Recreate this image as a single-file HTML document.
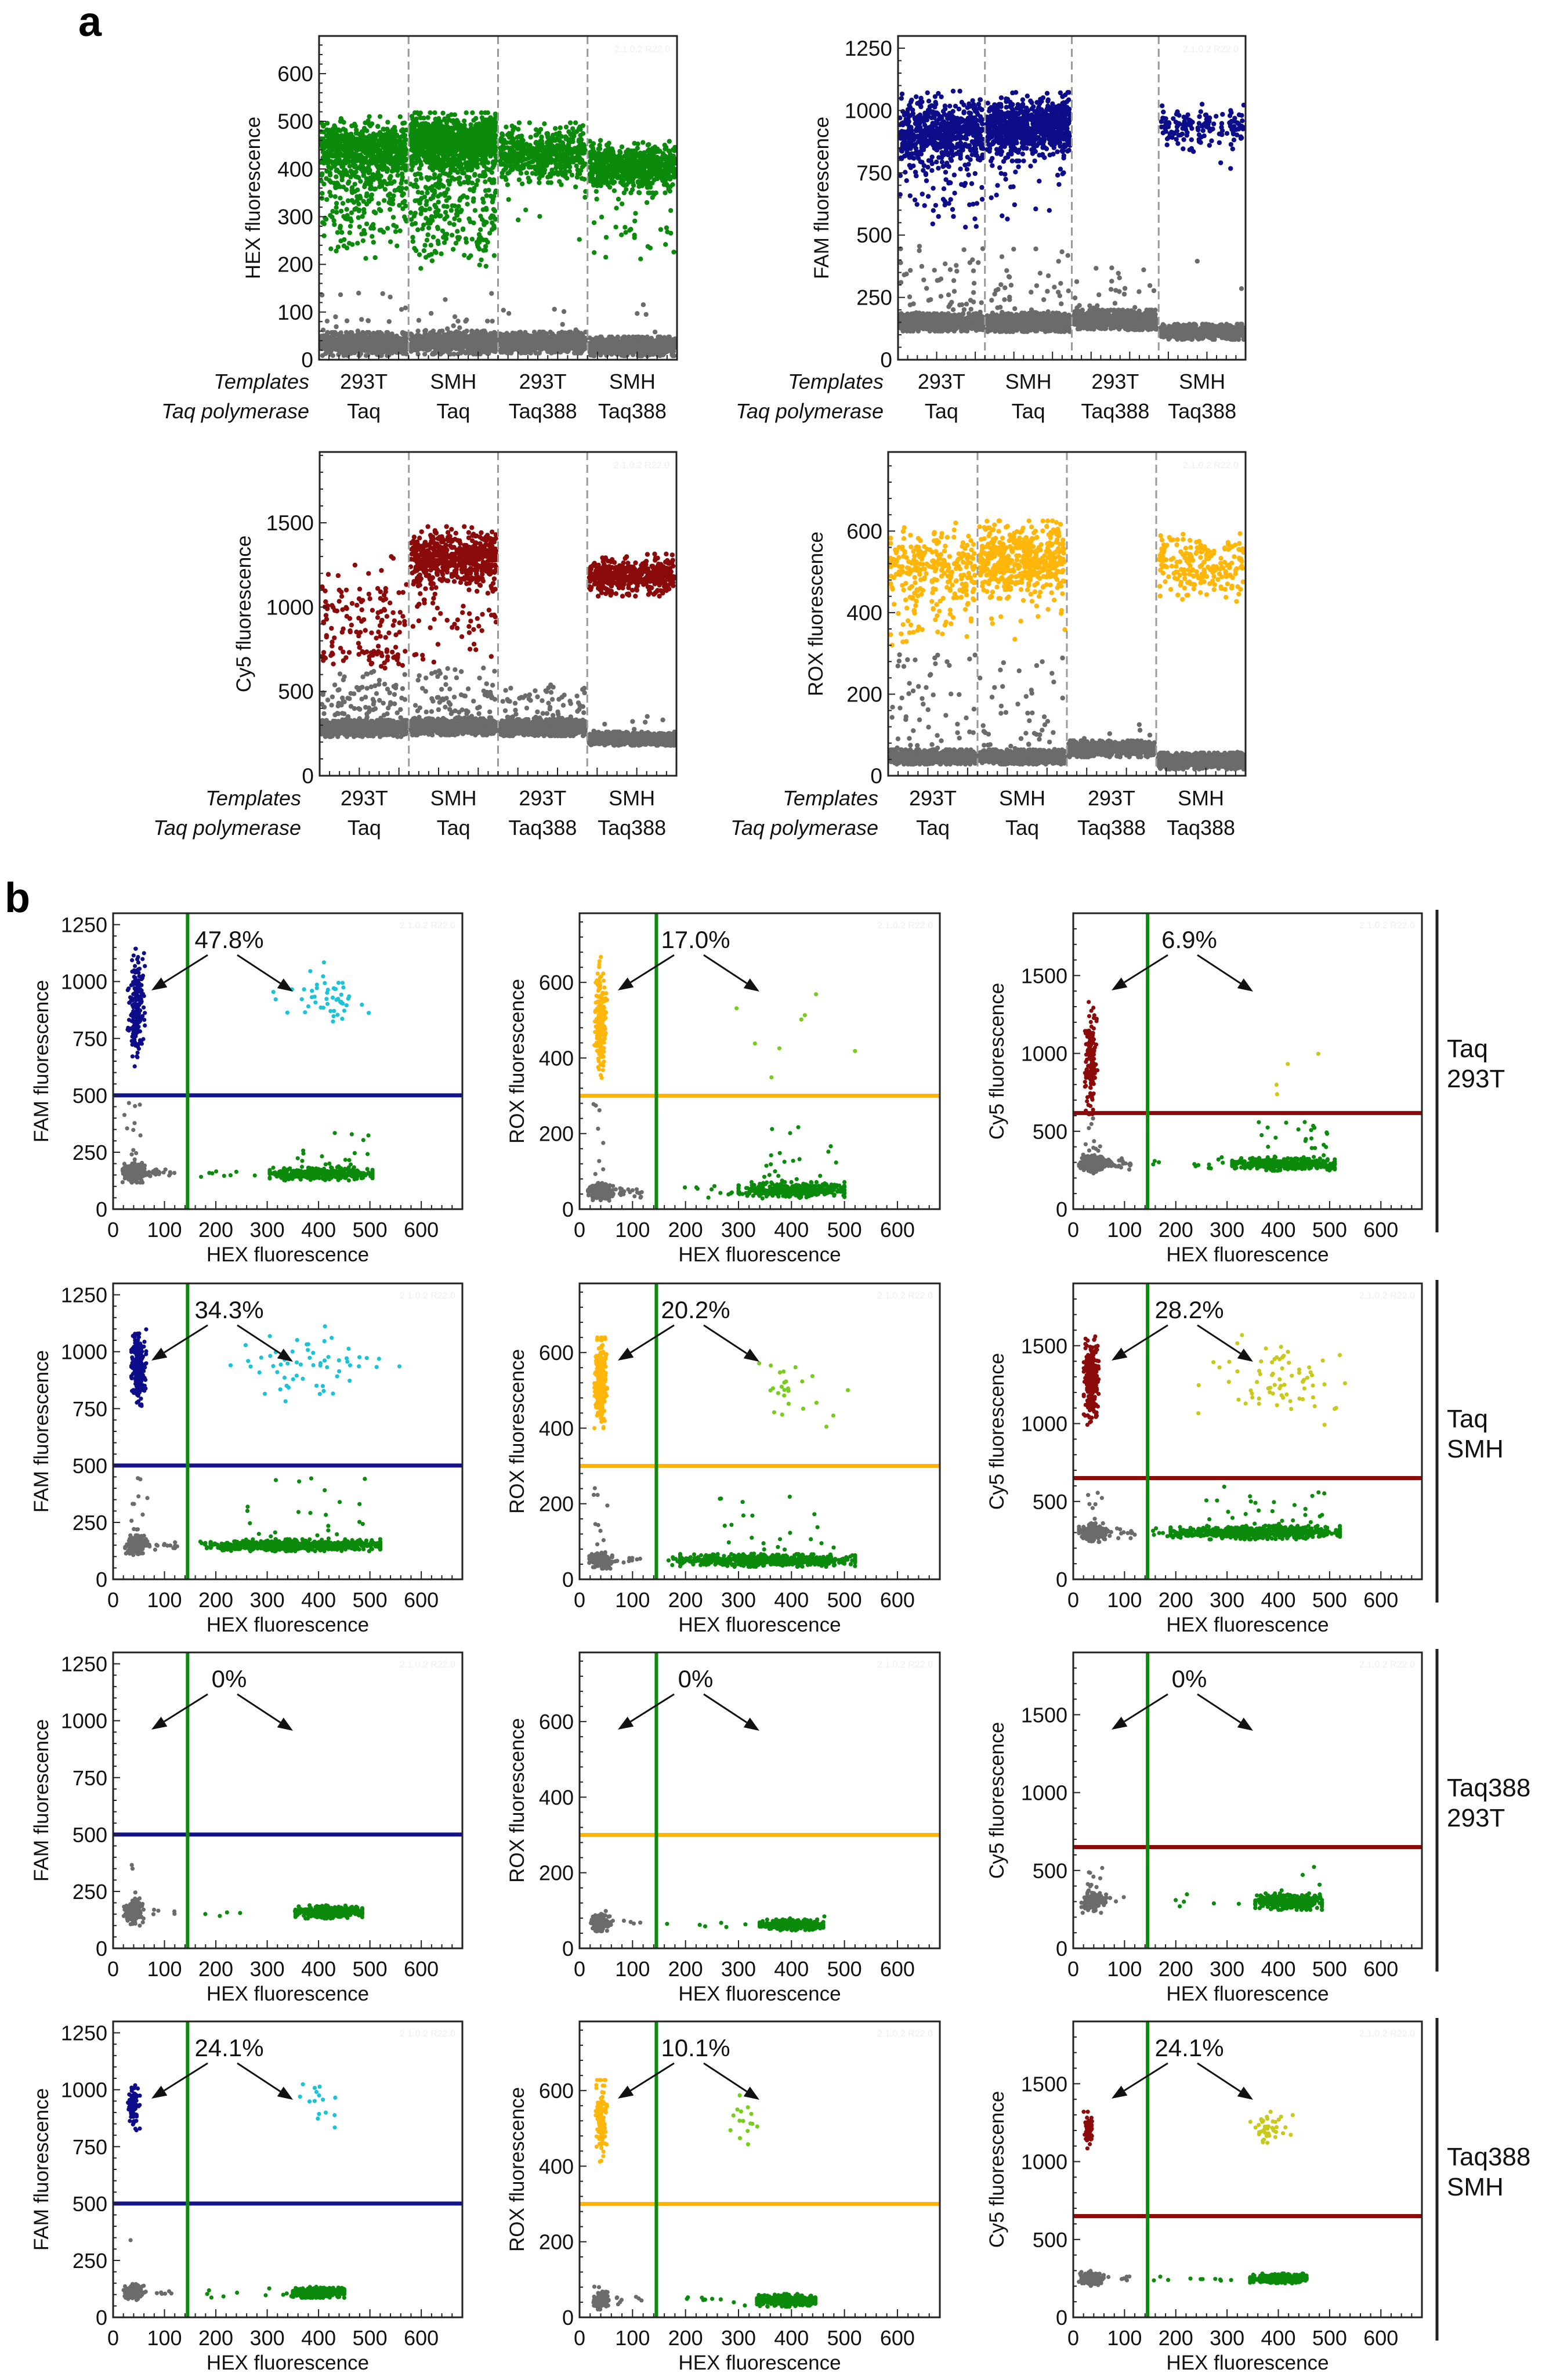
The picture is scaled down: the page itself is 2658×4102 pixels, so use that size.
<!DOCTYPE html>
<html><head><meta charset="utf-8">
<style>
html,body{margin:0;padding:0;background:#fff;}
svg{display:block;font-family:"Liberation Sans",Arial,sans-serif;}
</style></head>
<body>
<svg id="fig" width="2658" height="4102" viewBox="0 0 2658 4102" xmlns="http://www.w3.org/2000/svg">
<rect width="2658" height="4102" fill="#fff"/>
<text x="135" y="62" font-size="72" font-weight="bold">a</text>
<text x="8" y="1572" font-size="72" font-weight="bold">b</text>
</svg>
<script>
// ---------- Panel a data (per well: 293T/Taq, SMH/Taq, 293T/Taq388, SMH/Taq388) ----------
const templates = ["293T","SMH","293T","SMH"];
const polymerases = ["Taq","Taq","Taq388","Taq388"];

const hexPosMean = [440,458,432,405];
const hexPosSD = [28,24,26,22];
const hexPosN = [700,1100,500,700];
const hexRainN = [200,320,15,35];
const hexRainLo = [200,190,210,180];
const hexNegMean = [33,36,36,28];
const hexNegSD = [11,11,10,9];
const hexNegRainN = [20,15,8,6];
const hexNegRainHi = [140,140,110,120];

const famPosMean = [915,935,0,930];
const famPosSD = [65,55,0,40];
const famPosN = [600,800,0,140];
const famRainN = [60,35,0,3];
const famRainLo = [500,520,0,740];
const famNegMean = [150,150,160,112];
const famNegSD = [16,17,18,14];
const famNegRainN = [55,40,25,2];
const famNegRainHi = [460,460,380,450];

const cy5PosMean = [950,1290,0,1190];
const cy5PosSD = [140,75,0,50];
const cy5PosN = [110,550,0,450];
const cy5RainN = [40,70,0,4];
const cy5RainLo = [620,640,0,1020];
const cy5NegMean = [280,290,285,220];
const cy5NegSD = [22,22,22,18];
const cy5NegRainN = [100,90,70,8];
const cy5NegRainHi = [620,650,540,380];

const roxPosMean = [520,530,0,520];
const roxPosSD = [40,38,0,38];
const roxPosN = [230,480,0,200];
const roxRainN = [60,25,0,2];
const roxRainLo = [300,300,0,410];
const roxNegMean = [46,46,66,36];
const roxNegSD = [8,8,9,9];
const roxNegRainN = [55,50,5,2];
const roxNegRainHi = [300,300,130,90];

const negPerWell = 800;

// ---------- Panel b data ----------
// order per row: FAM, ROX, Cy5 ; rows: Taq 293T, Taq SMH, Taq388 293T, Taq388 SMH
const bPercents = ["47.8%","17.0%","6.9%","34.3%","20.2%","28.2%","0%","0%","0%","24.1%","10.1%","24.1%"];
const bThreshold = [500,300,617,500,300,650,500,300,650,500,300,650];
const hexThreshold = 145;
const rowLabels1 = ["Taq","Taq","Taq388","Taq388"];
const rowLabels2 = ["293T","SMH","293T","SMH"];
// negative (gray)
const negX = [40,40,40, 45,40,40, 40,40,40, 40,40,35];
const negY = [160,45,290, 150,50,300, 160,68,300, 110,45,250];
const negSX = [9,10,12, 9,9,12, 8,8,10, 9,7,10];
const negSY = [18,10,25, 18,9,25, 25,10,30, 15,10,20];
const negN = [300,300,300, 200,200,200, 150,150,150, 150,150,150];
const negTailN = [25,25,25, 15,15,15, 5,5,5, 8,8,8];
const negUpN = [12,8,10, 12,10,8, 3,2,10, 1,3,1];
const negUpHi = [480,290,600, 460,250,600, 380,130,520, 450,90,300];
// channel-single positive
const chX = [45,40,35, 50,40,35, 0,0,0, 40,40,30];
const chY = [880,500,970, 930,520,1280, 0,0,0, 920,520,1200];
const chSX = [7,5,5, 6,5,6, 0,0,0, 5,5,4];
const chSY = [110,70,150, 70,50,120, 0,0,0, 50,45,50];
const chN = [200,200,150, 300,300,300, 0,0,0, 80,120,70];
// HEX single positive (green): center and half-width (uniform in x)
const gX = [405,400,410, 355,355,355, 420,400,420, 400,390,400];
const gY = [155,50,290, 150,50,300, 160,62,300, 110,45,250];
const gHalfX = [100,100,100, 165,165,165, 65,60,65, 50,55,55];
const gSY = [12,9,18, 11,7,18, 12,6,22, 10,7,13];
const gN = [400,400,400, 700,700,700, 400,400,400, 400,400,400];
const gRainN = [8,10,12, 6,6,6, 5,6,6, 10,10,10];
const gUpN = [20,20,25, 25,25,30, 0,2,4, 0,0,0];
const gUpHi = [350,220,560, 450,220,600, 0,90,540, 0,0,0];
// double positive
const dX = [420,400,420, 400,400,400, 0,0,0, 400,320,380];
const dY = [920,480,1000, 950,500,1280, 0,0,0, 930,530,1200];
const dSX = [45,50,40, 75,50,65, 0,0,0, 15,15,20];
const dSY = [70,80,120, 70,40,120, 0,0,0, 40,30,50];
const dN = [50,8,4, 60,25,70, 0,0,0, 15,15,40];

// ---------- helpers ----------
const NS = "http://www.w3.org/2000/svg";
const svg = document.getElementById("fig");
let seed = 12345;
function rnd(){ seed = (seed + 0x6D2B79F5) | 0; let t = seed; t = Math.imul(t ^ t >>> 15, t | 1); t ^= t + Math.imul(t ^ t >>> 7, t | 61); return ((t ^ t >>> 14) >>> 0) / 4294967296; }
function gauss(){ let u = rnd() || 1e-9, v = rnd(); return Math.sqrt(-2*Math.log(u))*Math.cos(2*Math.PI*v); }
function el(tag, attrs, parent){ const e = document.createElementNS(NS, tag); for (const k in attrs) e.setAttribute(k, attrs[k]); (parent||svg).appendChild(e); return e; }
function txt(x,y,s,size,anchor,parent,extra){ const t = el("text",Object.assign({x:x,y:y,"font-size":size,"text-anchor":anchor||"middle",fill:"#111"},extra||{}),parent); t.textContent = s; return t; }

const COL = {green:"#0b8a0b", gray:"#6b6b6b", navy:"#0d0d8a", cyan:"#1cc2d8", red:"#8b0a0a", orange:"#ffb60a", yg:"#78cc1e", yellow:"#c9c91c"};

// ---------- panel a ----------
function panelA(cfg){
  const g = el("g",{});
  
  
  const L=cfg.x, T=cfg.y, W=cfg.w, H=cfg.h;
  const ys = v => T + H - v / cfg.ymax * H;
  const wellW = W/4;
  const pts = el("g",{fill:cfg.color},g);
  
  
  const gray = el("g",{fill:COL.gray},g);
  
  
  const r = 4.2;
  function dot(par, w, v){ const x = L + (w + 0.02 + rnd()*0.96)*wellW; const y = ys(v); if (y < T+3 || y > T+H-2) return; el("circle",{cx:x.toFixed(1),cy:y.toFixed(1),r:r},par); }
  for (let w=0; w<4; w++){
    for (let i=0;i<negPerWell;i++) dot(gray,w,cfg.negMean[w]+cfg.negSD[w]*Math.max(-2.2,Math.min(2.2,gauss())));
    for (let i=0;i<cfg.negRainN[w];i++) dot(gray,w,cfg.negMean[w]+2*cfg.negSD[w]+Math.pow(rnd(),1.5)*(cfg.negRainHi[w]-cfg.negMean[w]-2*cfg.negSD[w]));
    for (let i=0;i<cfg.posN[w];i++) dot(pts,w,cfg.posMean[w]+cfg.posSD[w]*Math.max(-2.5,Math.min(2.5,gauss())));
    const hi = cfg.posMean[w]-1.5*cfg.posSD[w];
    for (let i=0;i<cfg.rainN[w];i++) dot(pts,w,cfg.rainLo[w]+Math.pow(rnd(),0.6)*(hi-cfg.rainLo[w]));
  }
  for (let w=1; w<4; w++){
    const ln = el("line",{x1:L+w*wellW,x2:L+w*wellW,y1:T,y2:T+H,stroke:"#999","stroke-width":3,"stroke-dasharray":"14 8"},g);
    
    
  }
  const fr = el("rect",{x:L,y:T,width:W,height:H,fill:"none",stroke:"#222","stroke-width":3},g);
  
  
  for (let v=0; v<=cfg.ymax; v+=cfg.minor){
    const major = Math.abs(v/cfg.major - Math.round(v/cfg.major))<1e-6;
    el("line",{x1:L,x2:L+(major?12:6),y1:ys(v),y2:ys(v),stroke:"#222","stroke-width":2},g);
    if (major){ const t = txt(L-10, ys(v)+13, String(v), 37, "end", g);
      
       }
  }
  for (let i=1;i<36;i++){ const x=L+i*W/36; el("line",{x1:x,x2:x,y1:T+H,y2:T+H-(i%4==0?14:8),stroke:"#222","stroke-width":2},g); }
  const yt = txt(0,0,cfg.title,35,"middle",g,{transform:`translate(${cfg.titleX},${T+H/2}) rotate(-90)`});
  
  
  const wm = txt(L+W-12, T+28, "2.1.0.2 R22.0", 16, "end", g, {fill:"#eee"});
  
  
  const t1 = txt(cfg.lblX, cfg.lblY, "Templates", 36, "end", g, {"font-style":"italic"});
  
  
  const t2 = txt(cfg.lblX, cfg.lblY+51, "Taq polymerase", 36, "end", g, {"font-style":"italic"});
  
  
  for (let w=0; w<4; w++){
    const c = L+(w+0.5)*wellW;
    const a = txt(c, cfg.lblY, templates[w], 36, "middle", g);
    
    
    const b = txt(c, cfg.lblY+51, polymerases[w], 36, "middle", g);
    
    
  }
}
panelA({name:"hex-event-plot",x:550,y:62,w:617,h:558,ymax:679,major:100,minor:20,color:COL.green,title:"HEX fluorescence",titleX:448,lblX:533,lblY:670,
  posMean:hexPosMean,posSD:hexPosSD,posN:hexPosN,rainN:hexRainN,rainLo:hexRainLo,negMean:hexNegMean,negSD:hexNegSD,negRainN:hexNegRainN,negRainHi:hexNegRainHi});
panelA({name:"fam-event-plot",x:1548,y:62,w:599,h:558,ymax:1299,major:250,minor:50,color:COL.navy,title:"FAM fluorescence",titleX:1428,lblX:1523,lblY:670,
  posMean:famPosMean,posSD:famPosSD,posN:famPosN,rainN:famRainN,rainLo:famRainLo,negMean:famNegMean,negSD:famNegSD,negRainN:famNegRainN,negRainHi:famNegRainHi});
panelA({name:"cy5-event-plot",x:551,y:779,w:615,h:558,ymax:1920,major:500,minor:100,color:COL.red,title:"Cy5 fluorescence",titleX:432,lblX:519,lblY:1388,
  posMean:cy5PosMean,posSD:cy5PosSD,posN:cy5PosN,rainN:cy5RainN,rainLo:cy5RainLo,negMean:cy5NegMean,negSD:cy5NegSD,negRainN:cy5NegRainN,negRainHi:cy5NegRainHi});
panelA({name:"rox-event-plot",x:1531,y:779,w:616,h:558,ymax:794,major:200,minor:40,color:COL.orange,title:"ROX fluorescence",titleX:1418,lblX:1514,lblY:1388,
  posMean:roxPosMean,posSD:roxPosSD,posN:roxPosN,rainN:roxRainN,rainLo:roxRainLo,negMean:roxNegMean,negSD:roxNegSD,negRainN:roxNegRainN,negRainHi:roxNegRainHi});

// ---------- panel b ----------
const colLeft = [195,999,1850];
const colWidth = [602,621,601];
const colTitleOff = [112,96,120];
const rowTop = [1574,2212,2848,3484];
const plotH = 510;
const chanName = ["FAM","ROX","Cy5"];
const chanMax = [1300,783,1900];
const chanMajor = [250,200,500];
const chanMinor = [50,40,100];
const chanCol = [COL.navy,COL.orange,COL.red];
const dblCol = [COL.cyan,COL.yg,COL.yellow];
const thrCol = ["#14148a","#ffb400","#8b0a0a"];
const XMAX = 680;

for (let r=0;r<4;r++){
  for (let c=0;c<3;c++){
    const k = r*3+c;
    const L = colLeft[c], T = rowTop[r], W = colWidth[c], H = plotH;
    const xs = v => L + v/XMAX*W;
    const ys = v => T + H - v/chanMax[c]*H;
    const g = el("g",{});
    
    
    function put(par, vx, vy){
      const x = xs(vx), y = ys(vy);
      if (x<L+3||x>L+W-3||y<T+3||y>T+H-3) return;
      el("circle",{cx:x.toFixed(1),cy:y.toFixed(1),r:3.6},par);
    }
    function grp(col,nm){ const cg = el("g",{fill:col},g);
      
       return cg; }
    const cl = v => Math.max(-2.4,Math.min(2.4,v));
    // gray
    const ng = grp(COL.gray,'negative-cluster');
    for (let i=0;i<negN[k];i++) put(ng, negX[k]+negSX[k]*cl(gauss()), negY[k]+negSY[k]*cl(gauss()));
    for (let i=0;i<negTailN[k];i++) put(ng, negX[k]+20+rnd()*60, negY[k]+negSY[k]*0.6*cl(gauss()));
    for (let i=0;i<negUpN[k];i++) put(ng, negX[k]+negSX[k]*cl(gauss()), negY[k]+2*negSY[k]+rnd()*(negUpHi[k]-negY[k]-2*negSY[k]));
    // channel positive
    const cg = grp(chanCol[c],'channel-positive-cluster');
    for (let i=0;i<chN[k];i++) put(cg, chX[k]+chSX[k]*cl(gauss()), chY[k]+chSY[k]*cl(gauss()));
    // green
    const gg = grp(COL.green,'hex-positive-cluster');
    for (let i=0;i<gN[k];i++){ const u = rnd(), u2 = rnd(); const dx = (u+u2-1)*gHalfX[k]*1.05 + (rnd()-0.5)*gHalfX[k]*0.9; put(gg, gX[k]+Math.max(-gHalfX[k],Math.min(gHalfX[k],dx)), gY[k]+gSY[k]*cl(gauss())); }
    for (let i=0;i<gRainN[k];i++) put(gg, hexThreshold+10+rnd()*(gX[k]-gHalfX[k]-hexThreshold-10), gY[k]+gSY[k]*cl(gauss()));
    for (let i=0;i<gUpN[k];i++) put(gg, gX[k]+gHalfX[k]*0.9*(rnd()*2-1)*0.8+20, gY[k]+2*gSY[k]+Math.pow(rnd(),1.6)*(gUpHi[k]-gY[k]-2*gSY[k]));
    // double
    const dg = grp(dblCol[c],'double-positive-cluster');
    for (let i=0;i<dN[k];i++) put(dg, dX[k]+dSX[k]*cl(gauss()), dY[k]+dSY[k]*cl(gauss()));
    // thresholds
    const hl = el("line",{x1:L,x2:L+W,y1:ys(bThreshold[k]),y2:ys(bThreshold[k]),stroke:thrCol[c],"stroke-width":7},g);
    
    
    const vl = el("line",{x1:xs(hexThreshold),x2:xs(hexThreshold),y1:T,y2:T+H,stroke:COL.green,"stroke-width":6},g);
    
    
    const fr = el("rect",{x:L,y:T,width:W,height:H,fill:"none",stroke:"#222","stroke-width":3},g);
    
    
    for (let v=0; v<=chanMax[c]; v+=chanMinor[c]){
      const major = v % chanMajor[c] === 0;
      el("line",{x1:L,x2:L+(major?12:6),y1:ys(v),y2:ys(v),stroke:"#222","stroke-width":2},g);
      if (major){ const t = txt(L-10, ys(v)+13, String(v), 36, "end", g);
        
         }
    }
    for (let v=0; v<=XMAX; v+=20){
      const major = v % 100 === 0;
      el("line",{x1:xs(v),x2:xs(v),y1:T+H,y2:T+H-(major?14:7),stroke:"#222","stroke-width":2},g);
      if (major){ const t = txt(xs(v), T+H+48, String(v), 36, "middle", g);
        
         }
    }
    const xt = txt(L+W/2, T+H+90, "HEX fluorescence", 35, "middle", g);
    
    
    const yt = txt(0,0,chanName[c]+" fluorescence",35,"middle",g,{transform:`translate(${L-colTitleOff[c]},${T+H/2}) rotate(-90)`});
    
    
    const wm = txt(L+W-12, T+26, "2.1.0.2 R22.0", 16, "end", g, {fill:"#eee"});
    
    
    const pt = txt(L+200, T+60, bPercents[k], 42, "middle", g);
    
    
    const arrows = [[163,72,66,133],[214,72,310,135]];
    arrows.forEach(a=>{
      const x1=L+a[0],y1=T+a[1],x2=L+a[2],y2=T+a[3];
      const ang = Math.atan2(y2-y1,x2-x1), hl2=26, hw=10;
      const bx = x2 - hl2*Math.cos(ang), by = y2 - hl2*Math.sin(ang);
      const ln = el("line",{x1:x1,y1:y1,x2:bx,y2:by,stroke:"#111","stroke-width":3},g);
      
      
      const px = -Math.sin(ang)*hw, py = Math.cos(ang)*hw;
      const hd = el("polygon",{points:`${x2},${y2} ${bx+px},${by+py} ${bx-px},${by-py}`,fill:"#111"},g);
      
      
    });
  }
  const br = el("line",{x1:2477,x2:2477,y1:rowTop[r]-6,y2:rowTop[r]+plotH+40,stroke:"#222","stroke-width":5});
  
  
  const l1 = txt(2494, rowTop[r]+248, rowLabels1[r], 44, "start");
  
  
  const l2 = txt(2494, rowTop[r]+300, rowLabels2[r], 44, "start");
  
  
}
</script>
</body></html>
